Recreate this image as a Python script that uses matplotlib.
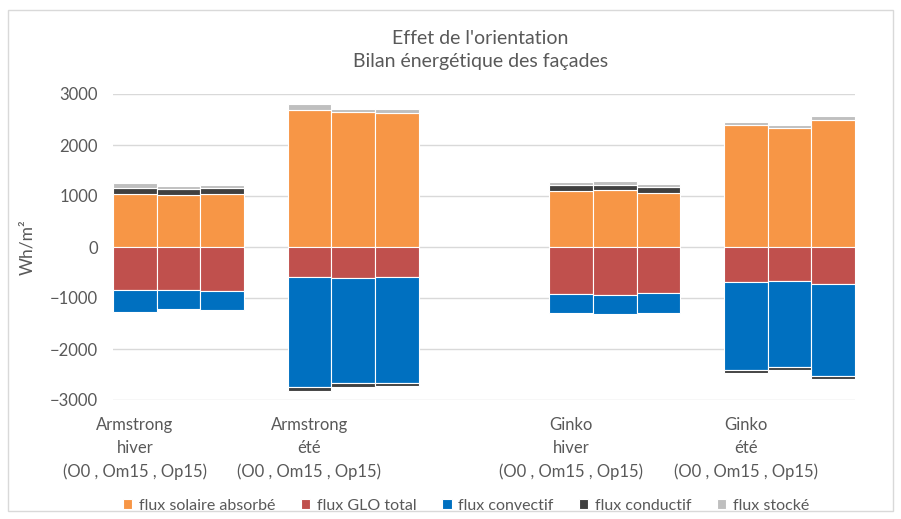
import numpy as np
import matplotlib.pyplot as plt
from matplotlib.patches import Rectangle

plt.rcParams['font.family'] = ['Lato', 'DejaVu Sans']

# bar slots (Excel categories with empty gaps)
positions = [0, 1, 2, 4, 5, 6, 10, 11, 12, 14, 15, 16]
group_pos = [0, 4, 10, 14]
group_labels = ["Armstrong\nhiver\n(O0 , Om15 , Op15)",
                "Armstrong\nété\n(O0 , Om15 , Op15)",
                "Ginko\nhiver\n(O0 , Om15 , Op15)",
                "Ginko\nété\n(O0 , Om15 , Op15)"]

solaire = [1040, 1020, 1030, 2692, 2647, 2633, 1090, 1110, 1065, 2386, 2340, 2490]
glo = [-850, -850, -870, -582, -600, -590, -930, -935, -905, -686, -667, -725]
convectif = [-420, -365, -360, -2157, -2060, -2077, -370, -385, -385, -1720, -1693, -1798]
conductif = [110, 110, 130, -85, -80, -60, 118, 110, 110, -65, -55, -60]
stocke = [100, 65, 50, 110, 60, 75, 70, 65, 70, 60, 60, 70]

series = [
    ("flux solaire absorbé", solaire, "#F79646"),
    ("flux GLO total", glo, "#C0504D"),
    ("flux convectif", convectif, "#0070C0"),
    ("flux conductif", conductif, "#404040"),
    ("flux stocké", stocke, "#BFBFBF"),
]

text_col = "#595959"

fig = plt.figure(figsize=(9.01, 5.19), dpi=100)
ax = fig.add_axes([113 / 901, (519 - 400) / 519, 742 / 901, 306 / 519])

pos_bottom = np.zeros(len(positions))
neg_bottom = np.zeros(len(positions))
for name, vals, col in series:
    v = np.array(vals, dtype=float)
    bottom = np.where(v >= 0, pos_bottom, neg_bottom)
    ax.bar(positions, v, width=1.0, bottom=bottom, color=col,
           edgecolor="white", linewidth=0.8, label=name, zorder=3)
    pos_bottom = pos_bottom + np.where(v >= 0, v, 0)
    neg_bottom = neg_bottom + np.where(v < 0, v, 0)

ax.set_xlim(-0.5, 16.5)
ax.set_ylim(-3000, 3000)
ax.set_yticks(np.arange(-3000, 3001, 1000))
ax.yaxis.grid(True, color="#D9D9D9", linewidth=1, zorder=0)
ax.set_axisbelow(True)
for s in ax.spines.values():
    s.set_visible(False)
ax.tick_params(axis="y", length=0, labelsize=12, labelcolor=text_col, pad=11)
ax.set_xticks(group_pos)
ax.set_xticklabels(group_labels, fontsize=12, color=text_col, linespacing=1.55)
ax.tick_params(axis="x", length=0, pad=12)
ax.set_ylabel("Wh/m²", fontsize=12.5, color=text_col, labelpad=10)

fig.text(0.533, 0.943, "Effet de l'orientation\nBilan énergétique des façades",
         ha="center", va="top", fontsize=14, color=text_col, linespacing=1.45)

ax.legend(loc="lower center", bbox_to_anchor=(466 / 901, -0.016), bbox_transform=fig.transFigure,
          ncol=5, frameon=False, fontsize=11.5, labelcolor=text_col,
          handlelength=0.6, handleheight=0.6, handletextpad=0.4, columnspacing=1.6)

fig.patches.append(Rectangle((8 / 901, 1 - 511 / 519), 885 / 901, 501 / 519,
                             transform=fig.transFigure, fill=False,
                             edgecolor="#D9D9D9", linewidth=1))

fig.savefig("out.png", dpi=100)
